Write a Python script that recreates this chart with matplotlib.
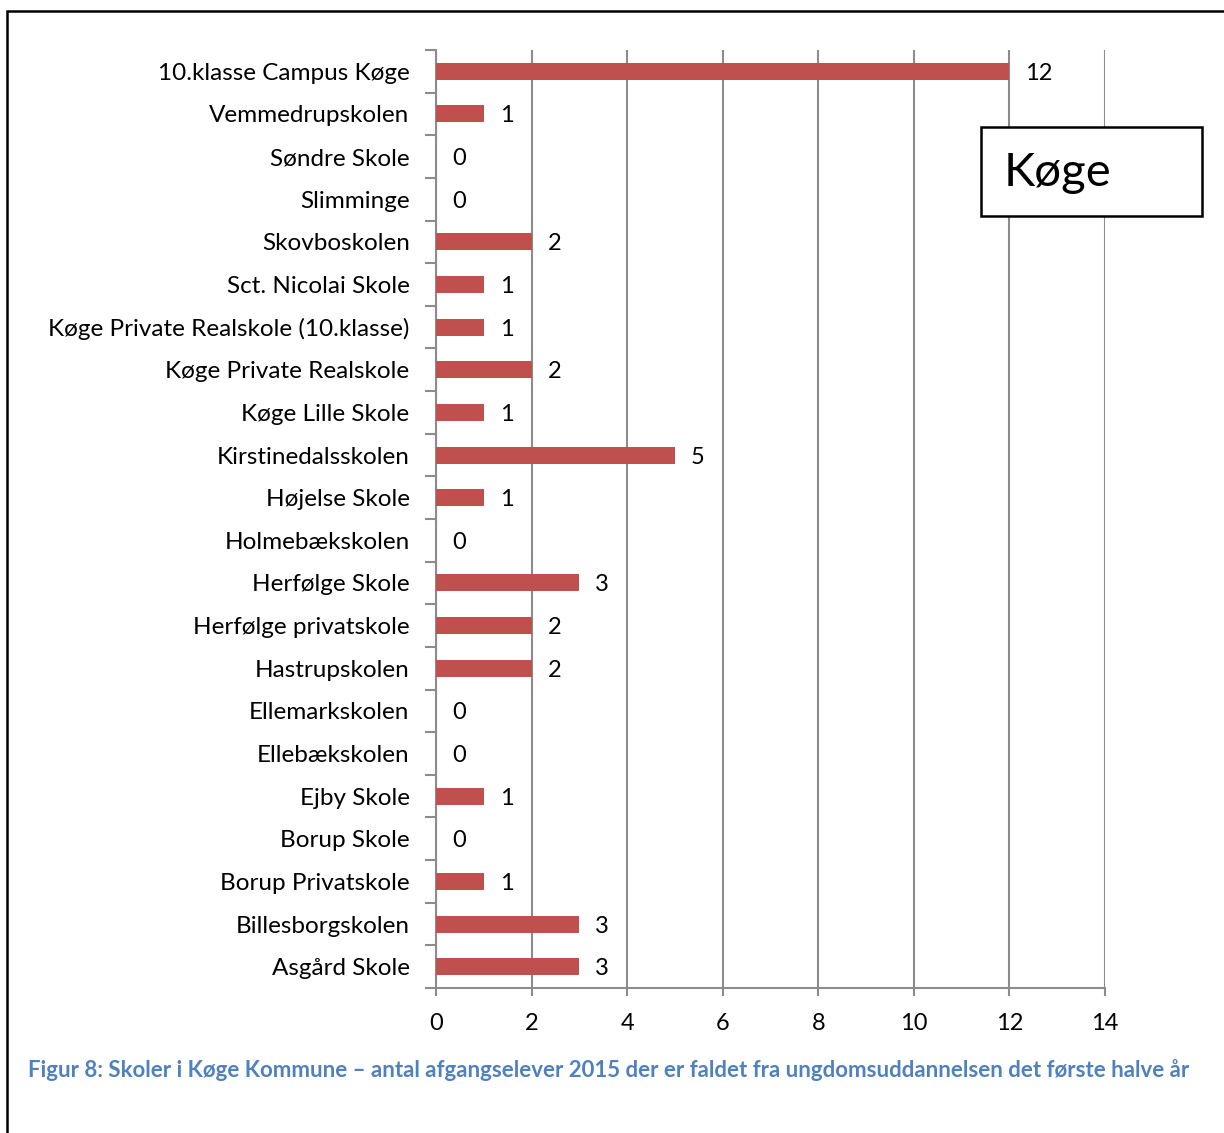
import matplotlib
matplotlib.use("Agg")
import matplotlib.pyplot as plt
from matplotlib.patches import Rectangle

schools = ["10.klasse Campus Køge", "Vemmedrupskolen", "Søndre Skole", "Slimminge",
           "Skovboskolen", "Sct. Nicolai Skole", "Køge Private Realskole (10.klasse)",
           "Køge Private Realskole", "Køge Lille Skole", "Kirstinedalsskolen",
           "Højelse Skole", "Holmebækskolen", "Herfølge Skole", "Herfølge privatskole",
           "Hastrupskolen", "Ellemarkskolen", "Ellebækskolen", "Ejby Skole",
           "Borup Skole", "Borup Privatskole", "Billesborgskolen", "Asgård Skole"]
values = [12, 1, 0, 0, 2, 1, 1, 2, 1, 5, 1, 0, 3, 2, 2, 0, 0, 1, 0, 1, 3, 3]
x_ticks = [0, 2, 4, 6, 8, 10, 12, 14]
caption = "Figur 8: Skoler i Køge Kommune – antal afgangselever 2015 der er faldet fra ungdomsuddannelsen det første halve år"
box_label = "Køge"

W, H = 1224, 1133
fig = plt.figure(figsize=(W / 100, H / 100), dpi=100)
plt.rcParams['font.family'] = ['Lato', 'DejaVu Sans']

ax = fig.add_axes([436 / W, 1 - 988 / H, (1105 - 436) / W, (988 - 50) / H])
n = len(schools)
ypos = list(range(n))[::-1]
bar_color = "#C0504D"
ax.barh(ypos, values, height=0.4, color=bar_color, zorder=3)
ax.set_xlim(0, 14)
ax.set_ylim(-0.5, n - 0.5)

grid_color = "#8C8C8C"
ax.set_xticks(x_ticks)
ax.set_xticklabels([str(t) for t in x_ticks], fontsize=17)
ax.xaxis.grid(True, color=grid_color, linewidth=1.5, zorder=0)
ax.tick_params(axis='x', length=6, width=1.5, color=grid_color, pad=12, labelcolor="black")

ax.set_yticks(ypos)
ax.set_yticklabels(schools, fontsize=17.5)
ax.tick_params(axis='y', length=0, pad=19)
# category boundary ticks
ax.set_yticks([i - 0.5 for i in range(n + 1)], minor=True)
ax.tick_params(axis='y', which='minor', length=8, width=1.5, color=grid_color)

for s in ['top', 'right']:
    ax.spines[s].set_visible(False)
for s in ['left', 'bottom']:
    ax.spines[s].set_color(grid_color)
    ax.spines[s].set_linewidth(1.5)

# value labels
for y, v in zip(ypos, values):
    ax.annotate(str(v), xy=(v, y), xytext=(16, 0), textcoords='offset pixels',
                ha='left', va='center_baseline', fontsize=17, color='black')

# Køge box
fig.patches.append(Rectangle((981 / W, 1 - 216 / H), (1202 - 981) / W, (216 - 127) / H,
                             transform=fig.transFigure, facecolor='white', edgecolor='black',
                             linewidth=1.8, zorder=5))
fig.text(1004 / W, 1 - 173 / H, box_label, fontsize=34, ha='left', va='center', zorder=6)

# caption
fig.text(28 / W, 1 - 1070 / H, caption, fontsize=16, fontweight='bold', color="#4F81BD",
         ha='left', va='center')

# outer frame
fig.patches.append(Rectangle((7 / W, -0.05), 1.2, 1 - 11 / H + 0.05, transform=fig.transFigure,
                             facecolor='none', edgecolor='black', linewidth=1.8, zorder=10))

fig.savefig("out.png", dpi=100)
